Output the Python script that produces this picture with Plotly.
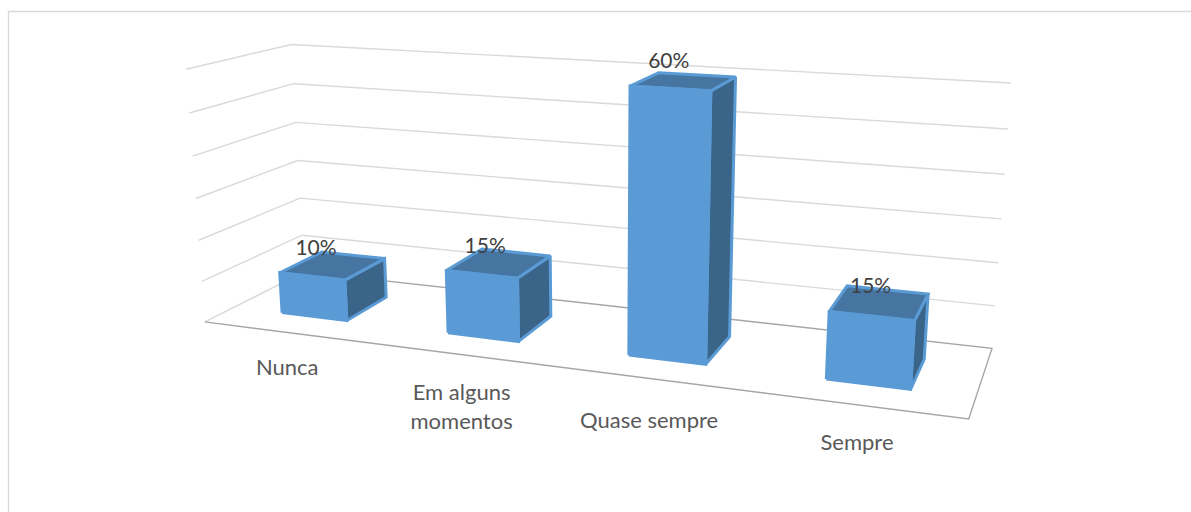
import numpy as np
import plotly.graph_objects as go

# ---- chart data ----
categories = ["Nunca", "Em alguns<br>momentos", "Quase sempre", "Sempre"]
values = [10, 15, 60, 15]
value_labels = ["10%", "15%", "60%", "15%"]
value_ticks = [0, 10, 20, 30, 40, 50, 60]

# ---- view of the 3-D box: box corners (x, depth, height) seen on the page ----
AXIS_MAX = 60
corners_world = [(0,0,0),(1,0,0),(0,1,0),(1,1,0),(0,0,1),(0,1,1),(1,1,1),(0,1,.5),(1,1,.5)]
corners_page = [(205,321.7),(968.7,419.3),(304,272),(992,348),(186,69.3),(291.7,44.3),(1011,83),(297.7,160.7),(1001.5,219)]

# label placement relative to the projected anchor (page pixels)
category_nudge = [(1, 37.5), (2, 55), (0, 44), (0, 40)]
value_nudge = [(-17, -16), (-14, -15), (-15, -19), (-9, -15)]

rows = []
for (X, Y, Z), (u, v) in zip(corners_world, corners_page):
    rows.append([X, Y, Z, 1, 0, 0, 0, 0, -u*X, -u*Y, -u*Z, -u])
    rows.append([0, 0, 0, 0, X, Y, Z, 1, -v*X, -v*Y, -v*Z, -v])
P = np.linalg.svd(np.array(rows, float))[2][-1].reshape(3, 4)

def project(X, Y, Z):
    h = P @ np.array([X, Y, Z, 1.0])
    return h[0] / h[2], h[1] / h[2]

def polyline(points):
    pts = [project(*p) for p in points]
    return [p[0] for p in pts], [p[1] for p in pts]

GRID = "#D9D9D9"
FLOOR = "#A6A6A6"
FRONT = "#5B9BD5"
TOP = "#4675A2"
SIDE = "#3A6488"
LABEL = "#595959"
VALUE = "#404040"
FONT = "Lato"

fig = go.Figure()

def line(points, color, width):
    x, y = polyline(points)
    fig.add_trace(go.Scatter(x=x, y=y, mode="lines", line=dict(color=color, width=width),
                             hoverinfo="skip", showlegend=False))

def face(points, color):
    x, y = polyline(points + points[:1])
    fig.add_trace(go.Scatter(x=x, y=y, mode="lines", fill="toself", fillcolor=color,
                             line=dict(color=FRONT, width=3), hoverinfo="skip", showlegend=False))

# walls: one gridline per value tick
for t in value_ticks[1:]:
    z = t / AXIS_MAX
    line([(0, 0, z), (0, 1, z), (1, 1, z)], GRID, 1.4)

# floor
line([(0, 0, 0), (0, 1, 0)], GRID, 1.4)
line([(0, 1, 0), (1, 1, 0), (1, 0, 0), (0, 0, 0)], FLOOR, 1.4)

# bars
n = len(categories)
bar_w = 0.10
d0, d1 = 0.28, 0.72
tops_x, tops_y = [], []
for i, v in enumerate(values):
    c = (i + 0.5) / n
    x0, x1 = c - bar_w / 2, c + bar_w / 2
    z = v / AXIS_MAX
    face([(x1, d0, 0), (x1, d1, 0), (x1, d1, z), (x1, d0, z)], SIDE)
    face([(x0, d0, z), (x1, d0, z), (x1, d1, z), (x0, d1, z)], TOP)
    face([(x0, d0, 0), (x1, d0, 0), (x1, d0, z), (x0, d0, z)], FRONT)
    tx, ty = project(c, 0.5, z)
    tops_x.append(tx + value_nudge[i][0])
    tops_y.append(ty + value_nudge[i][1])

# value labels
fig.add_trace(go.Scatter(x=tops_x, y=tops_y, mode="text", text=value_labels,
                         textposition="middle center",
                         textfont=dict(family=FONT, size=21, color=VALUE),
                         hoverinfo="skip", showlegend=False))

# category labels, below the front edge of the floor
lx, ly = [], []
for i in range(n):
    x, y = project((i + 0.5) / n, 0, 0)
    lx.append(x + category_nudge[i][0])
    ly.append(y + category_nudge[i][1])
fig.add_trace(go.Scatter(x=lx, y=ly, mode="text", text=categories,
                         textposition="middle center",
                         textfont=dict(family=FONT, size=22, color=LABEL),
                         hoverinfo="skip", showlegend=False))

# chart frame (right and bottom run off the page)
fig.add_shape(type="line", xref="paper", yref="paper", x0=8.5/1191, x1=1, y0=1-11.5/512, y1=1-11.5/512,
              line=dict(color="#D9D9D9", width=1.3))
fig.add_shape(type="line", xref="paper", yref="paper", x0=8.5/1191, x1=8.5/1191, y0=0, y1=1-11.5/512,
              line=dict(color="#D9D9D9", width=1.3))

fig.update_layout(width=1191, height=512, margin=dict(l=0, r=0, t=0, b=0),
                  paper_bgcolor="white", plot_bgcolor="white", showlegend=False,
                  xaxis=dict(range=[0, 1191], visible=False, fixedrange=True),
                  yaxis=dict(range=[512, 0], visible=False, fixedrange=True))

fig.write_html("out.html", config=dict(displayModeBar=False),
               post_script="document.body.style.margin='0';document.documentElement.style.overflow='hidden';")
